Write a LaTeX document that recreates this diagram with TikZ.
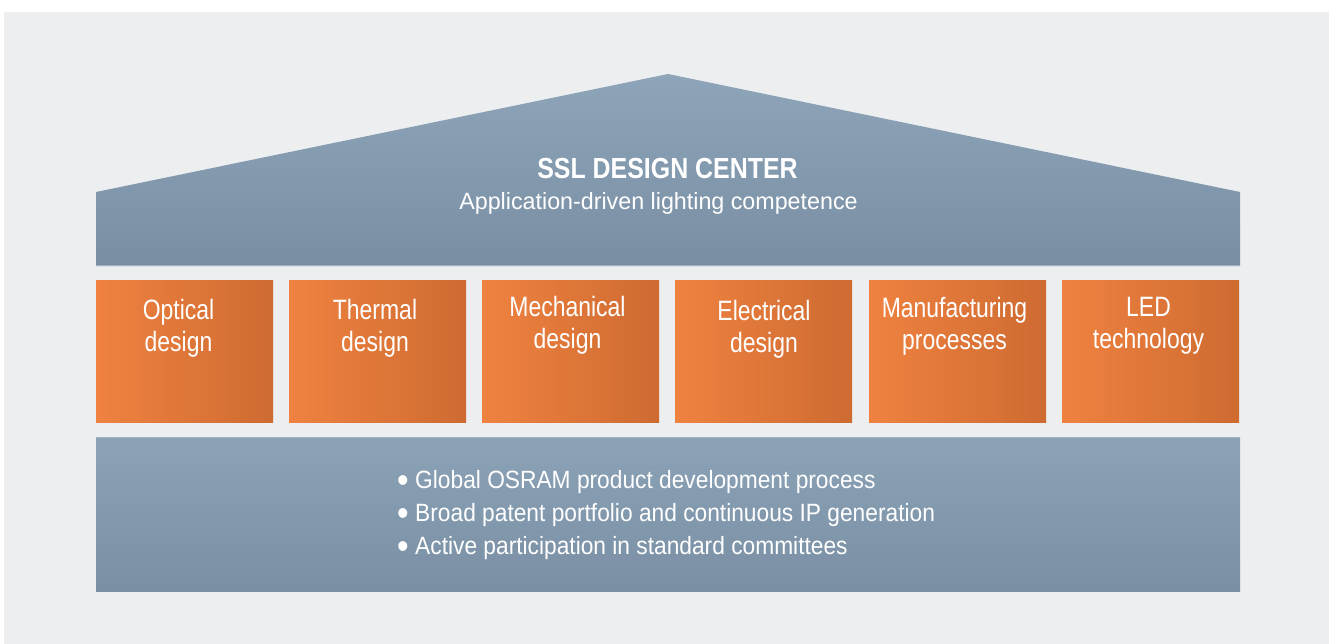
\documentclass[tikz,border=0pt]{standalone}
\usepackage{fontspec}
\usepackage{graphicx}
\setmainfont{Liberation Sans}
\newfontfamily\titlefont[FakeStretch=0.86]{Liberation Sans}
\newfontfamily\subfont[FakeStretch=0.99]{Liberation Sans}
\newfontfamily\boxfont[FakeStretch=0.82]{Liberation Sans}
\newfontfamily\listfont[FakeStretch=0.91]{Liberation Sans}
\definecolor{bg}{HTML}{EDEEF0}
\definecolor{roofTop}{HTML}{8EA5B9}
\definecolor{roofBot}{HTML}{798EA3}
\definecolor{baseTop}{HTML}{8BA2B7}
\definecolor{baseBot}{HTML}{7A8FA4}
\definecolor{orL}{HTML}{EF8240}
\definecolor{orR}{HTML}{CE6B31}
\definecolor{edgeLight}{HTML}{A0B1C1}
\newcommand{\bul}{\makebox[18pt][l]{\raisebox{-4pt}{\scalebox{1.45}{•}}}}
\tikzset{
  obox/.style={rectangle, inner sep=0pt, minimum width=177pt, minimum height=142pt, left color=orL, right color=orR, draw=none},
  btxt/.style={anchor=base, inner sep=0pt, text=white, font=\boxfont\fontsize{28}{32}\selectfont},
  ltxt/.style={anchor=base west, inner sep=0pt, text=white, font=\listfont\fontsize{25}{33}\selectfont},
}
\begin{document}
\begin{tikzpicture}[x=1pt,y=-1pt]
\useasboundingbox (0,0) rectangle (1329,644);
\fill[white] (0,0) rectangle (1329,644);
\fill[bg] (4,12) rectangle (1329,644);
% roof
\shade[top color=roofTop, bottom color=roofBot] (96,266) -- (96,192) -- (668,74) -- (1240,192) -- (1240,266) -- cycle;
\fill[edgeLight] (96,265.2) rectangle (1240,266.4);
\node[anchor=base, inner sep=0pt, text=white, font=\titlefont\bfseries\fontsize{29}{29}\selectfont] (title) at (667.5,179) {SSL DESIGN CENTER};
\node[anchor=base, inner sep=0pt, text=white, font=\subfont\fontsize{23.5}{23.5}\selectfont] (sub) at (658.5,209.5) {Application-driven lighting competence};
% pillars
\node[obox] (b1) at (184.5,351) {};
\node[obox] (b2) at (377.5,351) {};
\node[obox] (b3) at (570.5,351) {};
\node[obox] (b4) at (763.5,351) {};
\node[obox] (b5) at (957.5,351) {};
\node[obox] (b6) at (1150.5,351) {};
\node[btxt] (t1a) at (178.5,319) {Optical};
\node[btxt] (t1b) at (178.5,351) {design};
\node[btxt] (t2a) at (375,319) {Thermal};
\node[btxt] (t2b) at (375,351) {design};
\node[btxt] (t3a) at (567.5,316) {Mechanical};
\node[btxt] (t3b) at (567.5,348) {design};
\node[btxt] (t4a) at (764,320) {Electrical};
\node[btxt] (t4b) at (764,352) {design};
\node[btxt] (t5a) at (954.5,317.5) {Manufacturing};
\node[btxt] (t5b) at (954.5,349) {processes};
\node[btxt] (t6a) at (1148.5,316) {LED};
\node[btxt] (t6b) at (1148.5,348) {technology};
% base
\shade[top color=baseTop, bottom color=baseBot] (96,437) rectangle (1240,591);
\fill[edgeLight] (96,437) rectangle (1240,438.2);
\node[ltxt] (l1) at (397,488.5) {\bul Global OSRAM product development process};
\node[ltxt] (l2) at (397,521.5) {\bul Broad patent portfolio and continuous IP generation};
\node[ltxt] (l3) at (397,554.5) {\bul Active participation in standard committees};
\end{tikzpicture}
\end{document}
